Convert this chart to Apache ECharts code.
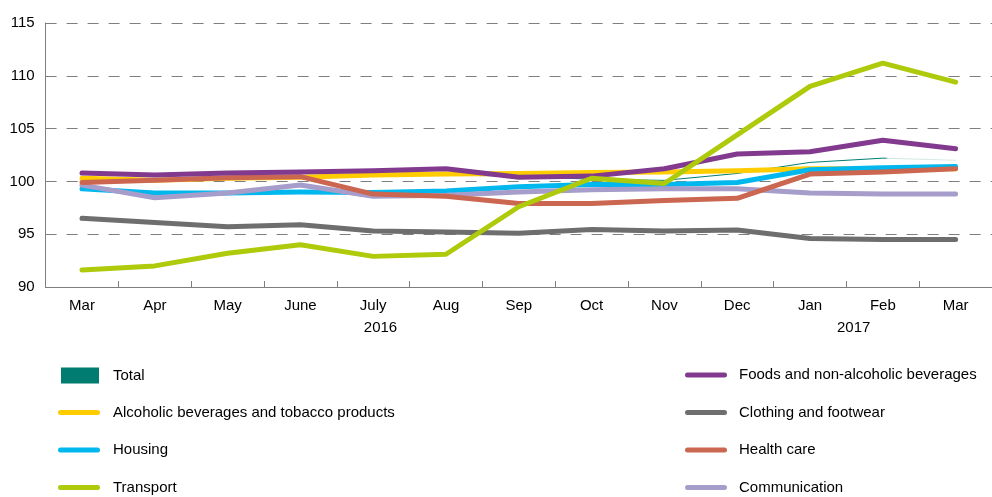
<!DOCTYPE html>
<html>
<head>
<meta charset="utf-8">
<script src="https://cdn.jsdelivr.net/npm/echarts@6/dist/echarts.min.js"></script>
<style>
html,body{margin:0;padding:0;background:#fff;}
#c{width:992px;height:497px;}
</style>
</head>
<body>
<div id="c"></div>
<script>
const months = ['Mar','Apr','May','June','July','Aug','Sep','Oct','Nov','Dec','Jan','Feb','Mar'];
const yearLabels = ['2016','2017'];
const yearPositions = [4.6, 11.1];

const total      = [100.3, 100.2, 100.4, 100.5, 100.6, 100.6, 100.5, 100.2, 100.1, 100.75, 101.8, 102.2, 102.0];
const foods      = [100.8, 100.6, 100.8, 100.9, 101.0, 101.2, 100.4, 100.5, 101.2, 102.6, 102.8, 103.9, 103.1];
const alcohol    = [100.3, 100.1, 100.3, 100.4, 100.6, 100.7, 100.75, 100.85, 100.9, 101.0, 101.2, 101.2, 101.2];
const clothing   = [96.5, 96.1, 95.7, 95.9, 95.3, 95.2, 95.1, 95.45, 95.3, 95.4, 94.6, 94.5, 94.5];
const housing    = [99.3, 98.9, 98.9, 99.0, 98.95, 99.1, 99.5, 99.7, 99.7, 99.9, 101.1, 101.3, 101.4];
const health     = [99.9, 100.1, 100.35, 100.45, 98.8, 98.6, 97.9, 97.9, 98.2, 98.4, 100.7, 100.9, 101.2];
const transport  = [91.6, 92.0, 93.2, 94.0, 92.9, 93.1, 97.6, 100.3, 99.8, 104.4, 109.0, 111.2, 109.4];
const communication = [99.65, 98.45, 98.9, 99.65, 98.6, 98.7, 99.0, 99.2, 99.3, 99.3, 98.9, 98.8, 98.8];

const yTicks = {min: 90, max: 115, interval: 5};

const FONT = "'Liberation Sans',Arial,sans-serif";
const lineIcon = 'path://M2.5,0 H39.5 A2.5,2.5 0 0 1 39.5,5 H2.5 A2.5,2.5 0 0 1 2.5,0 Z';

// z = drawing order (higher on top)
const seriesDefs = [
  {name:'Total', data: total, color:'#007C70', width:1, z:1},
  {name:'Foods and non-alcoholic beverages', data: foods, color:'#823A8E', width:5, z:7},
  {name:'Alcoholic beverages and tobacco products', data: alcohol, color:'#FFCC00', width:5, z:2},
  {name:'Clothing and footwear', data: clothing, color:'#6E6E6E', width:5, z:5},
  {name:'Housing', data: housing, color:'#00B8EE', width:5, z:3},
  {name:'Health care', data: health, color:'#CB6650', width:5, z:6},
  {name:'Transport', data: transport, color:'#AECA0B', width:5, z:8},
  {name:'Communication', data: communication, color:'#A69DCB', width:5, z:4}
];

const fadeAt = (months.length - 2) / (months.length - 1);
function totalStroke(c){
  return new echarts.graphic.LinearGradient(0, 0, 1, 0, [
    {offset: 0, color: c},
    {offset: fadeAt, color: c},
    {offset: Math.min(1, fadeAt + 0.004), color: '#CFE5E2'},
    {offset: 1, color: '#D8EBE8'}
  ]);
}

const chart = echarts.init(document.getElementById('c'), null, {renderer:'canvas'});
function legendText(padLeft){
  return {fontFamily: FONT, fontSize: 15, color:'#000', lineHeight: 18, padding: [0, 0, 0, padLeft]};
}
chart.setOption({
  animation: false,
  grid: {left: 45.6, top: 23, width: 953.6, height: 264, containLabel: false},
  xAxis: [{
    type: 'category',
    data: months,
    boundaryGap: true,
    axisLine: {show: true, lineStyle: {color: '#7f7f7f', width: 1}},
    axisTick: {show: true, inside: true, length: 6, lineStyle: {color: '#7f7f7f'}},
    axisLabel: {margin: 11, fontFamily: FONT, fontSize: 15, color: '#000'},
    splitLine: {show: false}
  }, {
    type: 'value',
    min: 0, max: 13,
    position: 'bottom',
    axisLine: {show: false},
    axisTick: {show: false},
    splitLine: {show: false},
    axisLabel: {
      margin: 33,
      customValues: yearPositions,
      formatter: function(v){ const i = yearPositions.indexOf(v); return i >= 0 ? yearLabels[i] : ''; },
      fontFamily: FONT, fontSize: 15, color: '#000'
    }
  }],
  yAxis: {
    type: 'value',
    min: yTicks.min, max: yTicks.max, interval: yTicks.interval,
    axisLine: {show: true, lineStyle: {color: '#7f7f7f', width: 1}},
    axisTick: {show: true, inside: true, length: 4, lineStyle: {color: '#7f7f7f'}},
    axisLabel: {margin: 11, fontFamily: FONT, fontSize: 15, color: '#000'},
    splitLine: {show: true, lineStyle: {color: '#7f7f7f', type: [11, 10], width: 1}}
  },
  legend: [{
    data: [{name:'Total', icon:'rect', itemStyle: {color: '#007C70'}}],
    orient: 'vertical', left: 61, top: 366.5, height: 40, padding: 0,
    itemWidth: 38, itemHeight: 16, itemGap: 19.5,
    textStyle: legendText(9)
  }, {
    data: ['Alcoholic beverages and tobacco products','Housing','Transport'].map(n => ({name:n, icon: lineIcon})),
    orient: 'vertical', left: 58, top: 403.5, height: 120, padding: 0,
    itemWidth: 42, itemHeight: 5, itemGap: 19.5,
    textStyle: legendText(8)
  }, {
    data: ['Foods and non-alcoholic beverages','Clothing and footwear','Health care','Communication'].map(n => ({name:n, icon: lineIcon})),
    orient: 'vertical', left: 685, top: 366, height: 160, padding: 0,
    itemWidth: 42, itemHeight: 5, itemGap: 19.5,
    textStyle: legendText(7)
  }],
  series: seriesDefs.map((s) => ({
    name: s.name,
    type: 'line',
    data: s.data,
    xAxisIndex: 0,
    symbol: 'none',
    color: s.color,
    lineStyle: {color: s.name === 'Total' ? totalStroke(s.color) : s.color, width: s.width, cap: 'round', join: 'round'},
    itemStyle: {color: s.color},
    z: 2 + s.z
  }))
});
</script>
</body>
</html>
